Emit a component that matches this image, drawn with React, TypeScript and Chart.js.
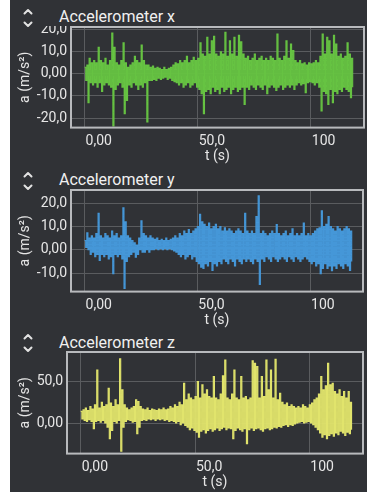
import React, { useEffect, useRef } from 'react';
import { Chart, registerables } from 'chart.js';

Chart.register(...registerables);

// Envelope samples, one per second starting at t = 0 s (upper and lower value reached in that second).
const T_STEP = 1;

const X_TICKS = [0, 50, 100];
const X_TICK_LABELS = ['0,00', '50,0', '100'];
const X_MIN = -6;
const X_MAX = 123.5;

const ACC_X_HIGH = [
  3, 4, 7, 5, 6, 5, 12, 6, 5, 7,
  4, 6, 18.5, 12, 5, 4, 6, 14, 5, 3,
  4, 5, 8, 6, 5, 13, 6, 4, 4, 3,
  3.5, 2.5, 3, 2.5, 2, 3, 2, 2.5, 3, 4,
  5, 4.5, 6, 5, 6, 8, 5, 6, 7.5, 6,
  7, 14, 9, 8, 16.5, 9, 15, 17, 9, 8,
  10, 9, 18.8, 8, 15, 9, 16.5, 8, 17.5, 14.5,
  9, 7, 8, 6, 7, 9, 6, 7, 8, 6,
  7, 6, 8, 7, 6, 18, 7, 6, 8, 15,
  7, 13.5, 10.5, 6, 5, 6, 4.5, 5, 4, 5,
  4.5, 5, 6, 5, 8, 18, 9, 16.5, 15, 9,
  17.5, 13.5, 8, 9, 7, 8, 14, 9, 7,
];
const ACC_X_LOW = [
  -3, -13, -4, -5, -4, -6, -4, -8, -5, -4,
  -5, -6, -23.6, -7, -5, -4, -6, -18, -12, -5,
  -6, -4, -5, -7, -5, -6, -4, -21.7, -3, -3,
  -2.5, -3, -2, -2.5, -2, -1.5, -2.5, -2, -3, -3.5,
  -4, -5, -4, -6, -5, -4, -6, -5, -4, -6,
  -7, -9, -18, -8, -7, -9, -6, -8, -7, -9,
  -6, -8, -7, -6, -9, -7, -6, -8, -7, -6,
  -13.8, -6, -7, -5, -6, -7, -5, -6, -7, -5,
  -9, -6, -5, -6, -7.5, -6, -5, -7, -6, -5,
  -6, -5, -7, -5, -4, -5, -4.5, -8.5, -4, -3.5,
  -4, -5, -4, -6, -16.8, -8, -9, -13.8, -7, -13,
  -8, -9, -7, -8, -6, -7, -8, -10.8, -6,
];
const ACC_X_TICKS = [-20, -10, 0, 10, 20];
const ACC_X_TICK_LABELS = ['-20,0', '-10,0', '0,00', '10,0', '20,0'];

const ACC_Y_HIGH = [
  4, 7.3, 5, 6, 5, 7, 15.7, 6, 5, 7,
  6, 5, 8, 6, 7, 5, 6, 18, 12, 6,
  5, 4, 3, 2, 5, 12.5, 7, 6, 5, 6,
  5, 4.5, 5, 4, 4.5, 4, 5, 4, 4.5, 5,
  6, 5, 7, 6, 8, 7, 8.7, 7, 8, 9,
  10, 15.3, 12, 11, 10, 11.5, 9, 10, 11, 9,
  10, 8, 9.4, 8, 9, 8, 7, 8, 9, 8,
  7, 15.7, 8, 7, 8, 7, 14.3, 23.2, 7, 8,
  7, 6, 7, 8, 7, 10.8, 7, 6, 7, 8,
  6, 7, 9, 6, 7, 6, 7, 11.5, 6, 7,
  6, 7, 8, 9, 9.4, 16.7, 10, 11, 14.3, 10,
  9, 8, 10, 9, 8, 9, 10, 9, 8,
];
const ACC_Y_LOW = [
  1, 0, -2, -1, -3, -2, -4.6, -2, -3, -2,
  -4, -3, -10.3, -2, -3, -2, -4, -16.6, -5, -3,
  -2, -1, -3.2, -2, 0, -1, -1, 0, -1, 0,
  0, 0.5, 0, 0.5, 0, 0.5, 0, 0.5, 0, -0.5,
  -1, -2, -3, -2, -4, -3, -2, -4, -3, -5,
  -6, -7.5, -8, -6, -7, -5, -8.9, -6, -7, -5,
  -6, -4, -5, -6, -4, -5, -7, -4, -5, -6,
  -4, -5, -4, -5, -6, -4, -5, -14.9, -4, -5,
  -3, -4, -5, -3, -4, -5, -4, -3, -4, -5,
  -3, -4, -5, -3, -4, -5, -4, -3, -4, -5,
  -6, -5, -7, -6, -10.3, -8, -6, -8, -7, -9,
  -7, -8, -6, -7, -8, -6, -7, -8.9, -5,
];
const ACC_Y_TICKS = [-10, 0, 10, 20];
const ACC_Y_TICK_LABELS = ['-10,0', '0,00', '10,0', '20,0'];

const ACC_Z_HIGH = [
  14, 16, 18, 15, 20, 17, 22, 63.8, 18, 25,
  20, 22, 42, 24, 20, 28, 22, 77.6, 40, 22,
  18, 16, 18, 20, 28, 26, 20, 17, 16, 18,
  15, 17, 16, 15, 17, 16, 18, 16, 17, 20,
  18, 22, 20, 25, 22, 48, 28, 35, 30, 28,
  32, 50, 30, 46, 35, 40, 32, 30, 56, 30,
  28, 35, 57, 76, 30, 28, 35, 64, 30, 28,
  56, 30, 32, 28, 30, 75, 72, 68, 30, 56,
  32, 76, 40, 64, 30, 77, 28, 36, 25, 22,
  24, 20, 22, 20, 18, 20, 18, 22, 20, 18,
  22, 24, 28, 30, 35, 56, 40, 45, 72, 46,
  48, 38, 35, 40, 32, 38, 30, 38, 25,
];
const ACC_Z_LOW = [
  5, 3, 2, 4, 2, -7, 2, 3, 1, 3,
  0, -5, -19, -9, 2, 0, 3, -34, -5, 2,
  4, 3, 1, 2, -13, -5, 3, 4, 3, 5,
  4, 5, 3, 5, 4, 5, 3, 4, 2, 3,
  2, 0, 2, -2, 0, -3, -5, -8, -6, -9,
  -11, -17, -10, -8, -12, -9, -7, -10, -8, -6,
  -9, -7, -5, -8, -6, -7, -19, -9, -6, -8,
  -10, -7, -25, -8, -6, -9, -7, -6, -8, -10,
  -7, -6, -8, -7, -5, -6, -4, -5, -3, -2,
  -4, -2, -3, -1, 0, 1, 2, 0, 1, 2,
  0, -2, -5, -8, -12, -17, -14, -19, -15, -13,
  -16, -12, -14, -10, -12, -15, -11, -13, -8,
];
const ACC_Z_TICKS = [0, 50];
const ACC_Z_TICK_LABELS = ['0,00', '50,0'];

const PAGE_BG = '#ffffff';
const PANEL_BG = '#303236';
const TEXT = '#e6e6e6';
const GRID = '#5a5c5f';
const FRAME = '#b8babd';
const FONT = 'Roboto, "Noto Sans", sans-serif';

const X_AXIS_H = 37.4;
const CANVAS_LEFT = 10;
const CANVAS_W = 357;
const Y_TITLE_X = 25;

type Panel = {
  title: string;
  color: string;
  high: number[];
  low: number[];
  yTicks: number[];
  yLabels: string[];
  yMin: number;
  yMax: number;
  boxLeft: number;
  boxRight: number;
  boxTop: number;
  boxBottom: number;
  titleBaseline: number;
};

const PANELS: Panel[] = [
  {
    title: 'Accelerometer x', color: '#66c342', high: ACC_X_HIGH, low: ACC_X_LOW,
    yTicks: ACC_X_TICKS, yLabels: ACC_X_TICK_LABELS, yMin: -24.3, yMax: 21.2,
    boxLeft: 71, boxRight: 364, boxTop: 27, boxBottom: 128, titleBaseline: 22.7,
  },
  {
    title: 'Accelerometer y', color: '#4597d8', high: ACC_Y_HIGH, low: ACC_Y_LOW,
    yTicks: ACC_Y_TICKS, yLabels: ACC_Y_TICK_LABELS, yMin: -18, yMax: 25.7,
    boxLeft: 71, boxRight: 363, boxTop: 190, boxBottom: 292, titleBaseline: 185.7,
  },
  {
    title: 'Accelerometer z', color: '#e1e46c', high: ACC_Z_HIGH, low: ACC_Z_LOW,
    yTicks: ACC_Z_TICKS, yLabels: ACC_Z_TICK_LABELS, yMin: -36.9, yMax: 85.7,
    boxLeft: 67, boxRight: 363, boxTop: 352, boxBottom: 454, titleBaseline: 348.3,
  },
];

// Alternate between the upper and lower value of each second so the trace fills its band.
function buildTrace(high: number[], low: number[]) {
  const pts: { x: number; y: number }[] = [];
  for (let i = 0; i < high.length; i++) {
    const t = i * T_STEP;
    pts.push({ x: t, y: high[i] });
    pts.push({ x: t + T_STEP / 2, y: low[i] });
  }
  return pts;
}

const framePlugin = {
  id: 'plotFrame',
  afterDraw(chart: any) {
    const { ctx, chartArea: a } = chart;
    ctx.save();
    ctx.strokeStyle = FRAME;
    ctx.lineWidth = 2;
    ctx.strokeRect(a.left, a.top, a.right - a.left, a.bottom - a.top);
    ctx.restore();
  },
};

function GraphPanel({ p }: { p: Panel }) {
  const ref = useRef<HTMLCanvasElement | null>(null);
  const canvasTop = p.boxTop - 1;
  const canvasH = p.boxBottom - p.boxTop + 1 + X_AXIS_H;
  const padLeft = Y_TITLE_X - CANVAS_LEFT - 8.4;
  const yWidth = p.boxLeft - CANVAS_LEFT - padLeft;
  const padRight = CANVAS_LEFT + CANVAS_W - p.boxRight;

  useEffect(() => {
    if (!ref.current) return;
    const tickFont = { family: FONT, size: 14 };
    const chart = new Chart(ref.current, {
      type: 'line',
      data: {
        datasets: [
          {
            data: buildTrace(p.high, p.low),
            borderColor: p.color,
            borderWidth: 1.1,
            pointRadius: 0,
            stepped: true,
            fill: false,
          },
        ],
      },
      options: {
        animation: false,
        responsive: false,
        maintainAspectRatio: false,
        parsing: false,
        normalized: true,
        events: [],
        layout: { padding: { left: padLeft, right: padRight, top: 1, bottom: 0 } },
        plugins: { legend: { display: false }, tooltip: { enabled: false } },
        scales: {
          x: {
            type: 'linear',
            min: X_MIN,
            max: X_MAX,
            afterBuildTicks: (s: any) => {
              s.ticks = X_TICKS.map((v) => ({ value: v }));
            },
            afterFit: (s: any) => {
              s.height = X_AXIS_H;
              s.paddingLeft = 0;
              s.paddingRight = 0;
            },
            ticks: {
              callback: (_v: any, i: number) => X_TICK_LABELS[i],
              align: 'start',
              labelOffset: 1,
              padding: 5,
              color: TEXT,
              font: tickFont,
              maxRotation: 0,
              autoSkip: false,
            },
            grid: { color: GRID, lineWidth: 1, drawTicks: false },
            border: { display: false },
            title: { display: true, text: 't (s)', color: TEXT, font: tickFont, padding: 0 },
          },
          y: {
            type: 'linear',
            min: p.yMin,
            max: p.yMax,
            afterBuildTicks: (s: any) => {
              s.ticks = p.yTicks.map((v) => ({ value: v }));
            },
            afterFit: (s: any) => {
              s.width = yWidth;
              s.paddingTop = 0;
              s.paddingBottom = 0;
            },
            ticks: {
              callback: (_v: any, i: number) => p.yLabels[i],
              padding: 4,
              color: TEXT,
              font: tickFont,
              autoSkip: false,
            },
            grid: { color: GRID, lineWidth: 1, drawTicks: false },
            border: { display: false },
            title: { display: true, text: 'a (m/s²)', color: TEXT, font: tickFont, padding: 0 },
          },
        },
      } as any,
      plugins: [framePlugin],
    });
    return () => chart.destroy();
  }, [p]);

  const chev = p.titleBaseline;
  return (
    <>
      <svg
        width={14}
        height={24}
        style={{ position: 'absolute', left: 21, top: chev - 15 }}
        viewBox="0 0 14 24"
      >
        <path d="M3.5 5.5 L7 2 L10.5 5.5" stroke="#e2e2e2" strokeWidth={2} fill="none" strokeLinecap="round" strokeLinejoin="round" />
        <path d="M3.5 14.5 L7 18 L10.5 14.5" stroke="#e2e2e2" strokeWidth={2} fill="none" strokeLinecap="round" strokeLinejoin="round" />
      </svg>
      <div
        style={{
          position: 'absolute',
          left: 59,
          top: p.titleBaseline - 13.5,
          font: `16px ${FONT}`,
          lineHeight: '16px',
          color: '#f0f0f0',
          whiteSpace: 'nowrap',
        }}
      >
        {p.title}
      </div>
      <canvas
        ref={ref}
        width={CANVAS_W}
        height={canvasH}
        style={{ position: 'absolute', left: CANVAS_LEFT, top: canvasTop, width: CANVAS_W, height: canvasH }}
      />
    </>
  );
}

export default function App() {
  return (
    <div
      style={{
        position: 'fixed',
        left: 0,
        top: 0,
        width: 367,
        height: 492,
        background: PAGE_BG,
        overflow: 'hidden',
      }}
    >
      <div style={{ position: 'absolute', left: 10, top: 0, width: 357, height: 492, background: PANEL_BG }} />
      {PANELS.map((p) => (
        <GraphPanel key={p.title} p={p} />
      ))}
    </div>
  );
}
